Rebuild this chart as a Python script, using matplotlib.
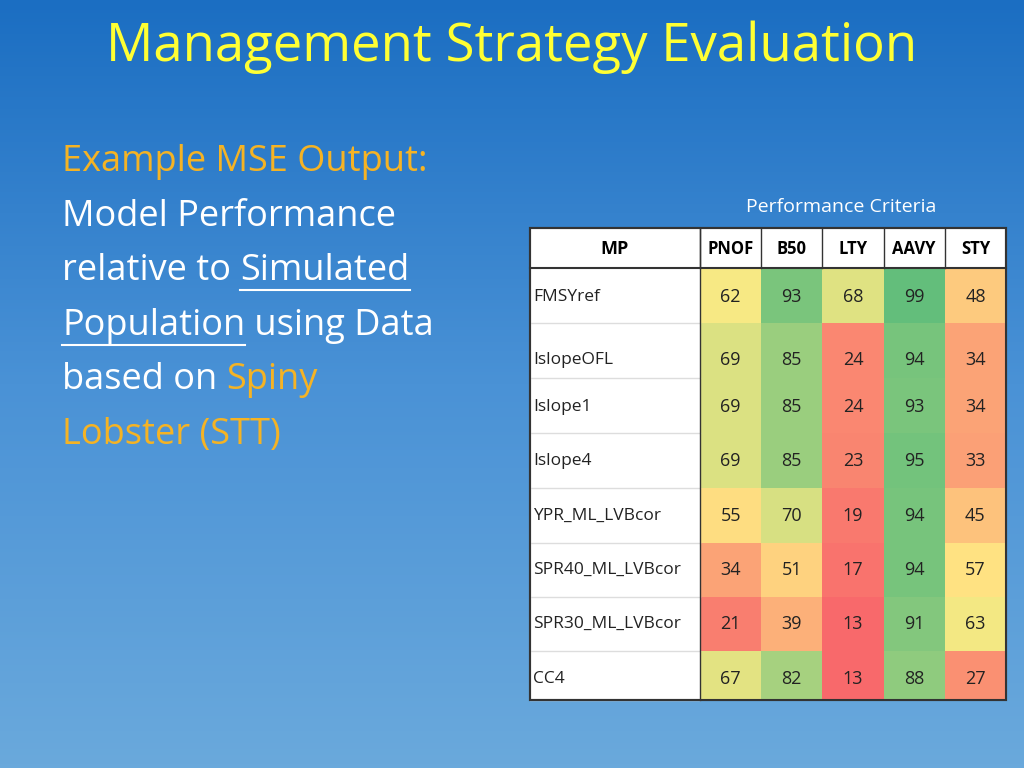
import numpy as np
import matplotlib
matplotlib.use('Agg')
import matplotlib.pyplot as plt
from matplotlib.patches import Rectangle
from matplotlib.colors import LinearSegmentedColormap

# ---------------------------------------------------------------- data
criteria = ['PNOF', 'B50', 'LTY', 'AAVY', 'STY']
procedures = ['FMSYref', 'IslopeOFL', 'Islope1', 'Islope4', 'YPR_ML_LVBcor',
              'SPR40_ML_LVBcor', 'SPR30_ML_LVBcor', 'CC4']
pnof = [62, 69, 69, 69, 55, 34, 21, 67]
b50 = [93, 85, 85, 85, 70, 51, 39, 82]
lty = [68, 24, 24, 23, 19, 17, 13, 13]
aavy = [99, 94, 93, 95, 94, 94, 91, 88]
sty = [48, 34, 34, 33, 45, 57, 63, 27]
columns = [pnof, b50, lty, aavy, sty]

FONT = 'Open Sans'
YELLOW = '#FFFF33'
ORANGE = '#F5B324'
scale = LinearSegmentedColormap.from_list('ryg', ['#F8696B', '#FFEB84', '#63BE7B'])

fig = plt.figure(figsize=(10.24, 7.68), dpi=100)
ax = fig.add_axes([0, 0, 1, 1])
ax.set_xlim(0, 1024)
ax.set_ylim(768, 0)
ax.axis('off')

# background gradient
grad = np.linspace(0, 1, 256)[:, None]
bg = LinearSegmentedColormap.from_list('bg', ['#1B6EC2', '#4A92D6', '#6AA9DC'])
ax.imshow(grad, cmap=bg, extent=[0, 1024, 768, 0], aspect='auto', zorder=0)

ax.text(512, 47, 'Management Strategy Evaluation', color=YELLOW, fontsize=38,
        family=FONT, ha='center', va='center')

# left-hand text, drawn piece by piece so some words can be coloured/underlined
lines = [
    [('Example MSE Output:', ORANGE, False)],
    [('Model Performance', 'white', False)],
    [('relative to ', 'white', False), ('Simulated', 'white', True)],
    [('Population', 'white', True), (' using Data', 'white', False)],
    [('based on ', 'white', False), ('Spiny', ORANGE, False)],
    [('Lobster (STT)', ORANGE, False)],
]
fig.canvas.draw()
renderer = fig.canvas.get_renderer()
inv = ax.transData.inverted()
for i, parts in enumerate(lines):
    y = 162 + i * 54.5
    x = 62
    for txt, col, ul in parts:
        t = ax.text(x, y, txt, color=col, fontsize=26, family=FONT, va='center', ha='left')
        bb = t.get_window_extent(renderer)
        (x0, _), (x1, _) = inv.transform([(bb.x0, 0), (bb.x1, 0)])
        if ul:
            ax.plot([x0, x1], [y + 19, y + 19], color=col, lw=1.5)
        x = x1

# global red-yellow-green colour scale across the whole grid
all_vals = [v for col in columns for v in col]
lo, hi, mid = min(all_vals), max(all_vals), 60

# table
ax.text(841, 207, 'Performance Criteria', color='white', fontsize=14, family=FONT,
        ha='center', va='center')
x_mp, x0, cw = 530, 700, 61.2
row_edges = [268, 323, 378, 433, 488, 543, 597, 651, 700]
text_y = [297, 360, 407, 461, 516, 570, 624, 679]
ax.add_patch(Rectangle((x_mp, 228), 1006 - x_mp, 700 - 228, facecolor='white',
                       edgecolor='#333333', lw=1.5, zorder=1))
ax.text((x_mp + x0) / 2, 249, 'MP', fontsize=13, family=FONT, ha='center', va='center',
        fontweight='bold', zorder=4)
for j, (name, vals) in enumerate(zip(criteria, columns)):
    cx = x0 + j * cw
    ax.text(cx + cw / 2, 249, name, fontsize=12, family=FONT, ha='center', va='center',
            fontweight='bold', zorder=4)
    for i, v in enumerate(vals):
        f = 0.5 * (v - lo) / (mid - lo) if v <= mid else 0.5 + 0.5 * (v - mid) / (hi - mid)
        ax.add_patch(Rectangle((cx, row_edges[i]), cw, row_edges[i + 1] - row_edges[i],
                               facecolor=scale(f), edgecolor='none', zorder=2))
        ax.text(cx + cw / 2, text_y[i], str(v), fontsize=13, family=FONT, ha='center',
                va='center', zorder=4, color='#222222')
for i, name in enumerate(procedures):
    ax.text(x_mp + 3, text_y[i], name, fontsize=12.5, family=FONT, ha='left', va='center',
            zorder=4, color='#222222')
    ax.plot([x_mp, x0], [row_edges[i + 1]] * 2, color='#dddddd', lw=1, zorder=3)
ax.plot([x_mp, 1006], [268, 268], color='#333333', lw=1.5, zorder=3)
for k in range(len(criteria)):
    ax.plot([x0 + k * cw] * 2, [228, 268], color='#333333', lw=1, zorder=3)
ax.plot([x0, x0], [228, 700], color='#333333', lw=1, zorder=3)
ax.add_patch(Rectangle((x_mp, 228), 1006 - x_mp, 700 - 228, facecolor='none',
                       edgecolor='#333333', lw=1.5, zorder=5))

fig.savefig('out.png', dpi=100)
